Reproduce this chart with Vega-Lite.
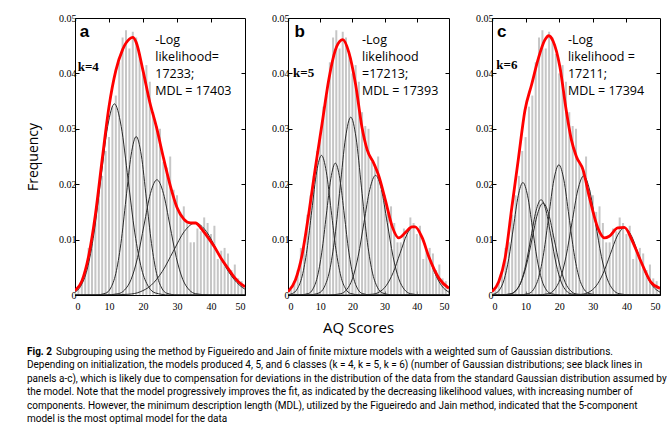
{
"$schema":"https://vega.github.io/schema/vega-lite/v6.json",
"padding":{"left":26,"top":12,"right":0,"bottom":0},
"background":"white",
"config":{"view":{"stroke":"#000","strokeWidth":1},"axis":{"labelColor":"#000","tickColor":"#000","titleColor":"#000","grid":false,"domain":false}},
"datasets":{
"hist":[{"x":0,"f":0.0008},{"x":1,"f":0.001},{"x":2,"f":0.0025},{"x":3,"f":0.0045},{"x":4,"f":0.0085},{"x":5,"f":0.0095},{"x":6,"f":0.0145},{"x":7,"f":0.018},{"x":8,"f":0.0215},{"x":9,"f":0.026},{"x":10,"f":0.0285},{"x":11,"f":0.034},{"x":12,"f":0.036},{"x":13,"f":0.042},{"x":14,"f":0.0465},{"x":15,"f":0.0478},{"x":16,"f":0.0445},{"x":17,"f":0.0475},{"x":18,"f":0.0465},{"x":19,"f":0.0435},{"x":20,"f":0.04},{"x":21,"f":0.0415},{"x":22,"f":0.0385},{"x":23,"f":0.033},{"x":24,"f":0.0305},{"x":25,"f":0.03},{"x":26,"f":0.024},{"x":27,"f":0.023},{"x":28,"f":0.025},{"x":29,"f":0.019},{"x":30,"f":0.018},{"x":31,"f":0.015},{"x":32,"f":0.016},{"x":33,"f":0.013},{"x":34,"f":0.0095},{"x":35,"f":0.0095},{"x":36,"f":0.012},{"x":37,"f":0.0115},{"x":38,"f":0.014},{"x":39,"f":0.013},{"x":40,"f":0.011},{"x":41,"f":0.0125},{"x":42,"f":0.0065},{"x":43,"f":0.008},{"x":44,"f":0.0085},{"x":45,"f":0.0075},{"x":46,"f":0.0045},{"x":47,"f":0.0055},{"x":48,"f":0.003},{"x":49,"f":0.0025},{"x":50,"f":0.001}],
"curves":[
{"p":"a","c":"1","x":0,"y":0.00051},{"p":"a","c":"1","x":1.6,"y":0.00151},{"p":"a","c":"1","x":3.6,"y":0.00467},{"p":"a","c":"1","x":5.6,"y":0.0112},{"p":"a","c":"1","x":7.6,"y":0.0209},{"p":"a","c":"1","x":9.6,"y":0.0304},{"p":"a","c":"1","x":11.6,"y":0.0345},{"p":"a","c":"1","x":13.6,"y":0.0304},{"p":"a","c":"1","x":15.6,"y":0.0209},{"p":"a","c":"1","x":17.6,"y":0.0112},{"p":"a","c":"1","x":19.6,"y":0.00467},{"p":"a","c":"1","x":21.6,"y":0.00151},{"p":"a","c":"1","x":23.6,"y":0.00038},{"p":"a","c":"1","x":27.6,"y":0.00001},{"p":"a","c":"1","x":50,"y":0},
{"p":"a","c":"2","x":0,"y":0},{"p":"a","c":"2","x":6,"y":0.00001},{"p":"a","c":"2","x":9,"y":0.00032},{"p":"a","c":"2","x":10.5,"y":0.00126},{"p":"a","c":"2","x":12,"y":0.00387},{"p":"a","c":"2","x":13.5,"y":0.00929},{"p":"a","c":"2","x":15,"y":0.01735},{"p":"a","c":"2","x":16.5,"y":0.02524},{"p":"a","c":"2","x":18,"y":0.0286},{"p":"a","c":"2","x":19.5,"y":0.02524},{"p":"a","c":"2","x":21,"y":0.01735},{"p":"a","c":"2","x":22.5,"y":0.00929},{"p":"a","c":"2","x":24,"y":0.00387},{"p":"a","c":"2","x":25.5,"y":0.00126},{"p":"a","c":"2","x":27,"y":0.00032},{"p":"a","c":"2","x":30,"y":0.00001},{"p":"a","c":"2","x":50,"y":0},
{"p":"a","c":"3","x":0,"y":0},{"p":"a","c":"3","x":8.9,"y":0.00001},{"p":"a","c":"3","x":12.7,"y":0.00023},{"p":"a","c":"3","x":14.6,"y":0.00091},{"p":"a","c":"3","x":16.5,"y":0.00281},{"p":"a","c":"3","x":18.4,"y":0.00675},{"p":"a","c":"3","x":20.3,"y":0.01262},{"p":"a","c":"3","x":22.2,"y":0.01836},{"p":"a","c":"3","x":24.1,"y":0.0208},{"p":"a","c":"3","x":26,"y":0.01836},{"p":"a","c":"3","x":27.9,"y":0.01262},{"p":"a","c":"3","x":29.8,"y":0.00675},{"p":"a","c":"3","x":31.7,"y":0.00281},{"p":"a","c":"3","x":33.6,"y":0.00091},{"p":"a","c":"3","x":35.5,"y":0.00023},{"p":"a","c":"3","x":39.3,"y":0.00001},{"p":"a","c":"3","x":50,"y":0},
{"p":"a","c":"4","x":0,"y":0},{"p":"a","c":"4","x":9.4,"y":0.00001},{"p":"a","c":"4","x":15.9,"y":0.00014},{"p":"a","c":"4","x":19.15,"y":0.00057},{"p":"a","c":"4","x":22.4,"y":0.00176},{"p":"a","c":"4","x":25.65,"y":0.00422},{"p":"a","c":"4","x":28.9,"y":0.00788},{"p":"a","c":"4","x":32.15,"y":0.01147},{"p":"a","c":"4","x":35.4,"y":0.013},{"p":"a","c":"4","x":38.65,"y":0.01147},{"p":"a","c":"4","x":41.9,"y":0.00788},{"p":"a","c":"4","x":45.15,"y":0.00422},{"p":"a","c":"4","x":48.4,"y":0.00176},{"p":"a","c":"4","x":50,"y":0.00104},
{"p":"a","c":"m","x":0,"y":0.0008},{"p":"a","c":"m","x":2,"y":0.0025},{"p":"a","c":"m","x":4,"y":0.007},{"p":"a","c":"m","x":6,"y":0.0145},{"p":"a","c":"m","x":8,"y":0.0245},{"p":"a","c":"m","x":10,"y":0.034},{"p":"a","c":"m","x":12,"y":0.0405},{"p":"a","c":"m","x":14,"y":0.0443},{"p":"a","c":"m","x":16,"y":0.0462},{"p":"a","c":"m","x":17,"y":0.0465},{"p":"a","c":"m","x":18,"y":0.0456},{"p":"a","c":"m","x":20,"y":0.0405},{"p":"a","c":"m","x":22,"y":0.0348},{"p":"a","c":"m","x":24,"y":0.0302},{"p":"a","c":"m","x":26,"y":0.0248},{"p":"a","c":"m","x":28,"y":0.0198},{"p":"a","c":"m","x":30,"y":0.0158},{"p":"a","c":"m","x":32,"y":0.0137},{"p":"a","c":"m","x":34,"y":0.013},{"p":"a","c":"m","x":35.5,"y":0.013},{"p":"a","c":"m","x":37,"y":0.0121},{"p":"a","c":"m","x":39,"y":0.0105},{"p":"a","c":"m","x":41,"y":0.0087},{"p":"a","c":"m","x":43,"y":0.0066},{"p":"a","c":"m","x":45,"y":0.0048},{"p":"a","c":"m","x":47,"y":0.0031},{"p":"a","c":"m","x":49,"y":0.0019},{"p":"a","c":"m","x":50,"y":0.0015},
{"p":"b","c":"1","x":0,"y":0.00006},{"p":"b","c":"1","x":1.4,"y":0.00028},{"p":"b","c":"1","x":2.9,"y":0.00111},{"p":"b","c":"1","x":4.4,"y":0.00341},{"p":"b","c":"1","x":5.9,"y":0.00818},{"p":"b","c":"1","x":7.4,"y":0.01528},{"p":"b","c":"1","x":8.9,"y":0.02224},{"p":"b","c":"1","x":10.4,"y":0.0252},{"p":"b","c":"1","x":11.9,"y":0.02224},{"p":"b","c":"1","x":13.4,"y":0.01528},{"p":"b","c":"1","x":14.9,"y":0.00818},{"p":"b","c":"1","x":16.4,"y":0.00341},{"p":"b","c":"1","x":17.9,"y":0.00111},{"p":"b","c":"1","x":19.4,"y":0.00028},{"p":"b","c":"1","x":22.4,"y":0.00001},{"p":"b","c":"1","x":50,"y":0},
{"p":"b","c":"2","x":0,"y":0},{"p":"b","c":"2","x":3.5,"y":0.00001},{"p":"b","c":"2","x":6.3,"y":0.00026},{"p":"b","c":"2","x":7.7,"y":0.00104},{"p":"b","c":"2","x":9.1,"y":0.00322},{"p":"b","c":"2","x":10.5,"y":0.00773},{"p":"b","c":"2","x":11.9,"y":0.01443},{"p":"b","c":"2","x":13.3,"y":0.021},{"p":"b","c":"2","x":14.7,"y":0.0238},{"p":"b","c":"2","x":16.1,"y":0.021},{"p":"b","c":"2","x":17.5,"y":0.01443},{"p":"b","c":"2","x":18.9,"y":0.00773},{"p":"b","c":"2","x":20.3,"y":0.00322},{"p":"b","c":"2","x":21.7,"y":0.00104},{"p":"b","c":"2","x":23.1,"y":0.00026},{"p":"b","c":"2","x":25.9,"y":0.00001},{"p":"b","c":"2","x":50,"y":0},
{"p":"b","c":"3","x":0,"y":0},{"p":"b","c":"3","x":6.3,"y":0.00001},{"p":"b","c":"3","x":9.6,"y":0.00036},{"p":"b","c":"3","x":11.25,"y":0.00141},{"p":"b","c":"3","x":12.9,"y":0.00434},{"p":"b","c":"3","x":14.55,"y":0.01042},{"p":"b","c":"3","x":16.2,"y":0.01947},{"p":"b","c":"3","x":17.85,"y":0.02833},{"p":"b","c":"3","x":19.5,"y":0.0321},{"p":"b","c":"3","x":21.15,"y":0.02833},{"p":"b","c":"3","x":22.8,"y":0.01947},{"p":"b","c":"3","x":24.45,"y":0.01042},{"p":"b","c":"3","x":26.1,"y":0.00434},{"p":"b","c":"3","x":27.75,"y":0.00141},{"p":"b","c":"3","x":29.4,"y":0.00036},{"p":"b","c":"3","x":32.7,"y":0.00001},{"p":"b","c":"3","x":50,"y":0},
{"p":"b","c":"4","x":0,"y":0},{"p":"b","c":"4","x":12.8,"y":0.00001},{"p":"b","c":"4","x":16.4,"y":0.00024},{"p":"b","c":"4","x":18.2,"y":0.00095},{"p":"b","c":"4","x":20,"y":0.00292},{"p":"b","c":"4","x":21.8,"y":0.00701},{"p":"b","c":"4","x":23.6,"y":0.0131},{"p":"b","c":"4","x":25.4,"y":0.01906},{"p":"b","c":"4","x":27.2,"y":0.0216},{"p":"b","c":"4","x":29,"y":0.01906},{"p":"b","c":"4","x":30.8,"y":0.0131},{"p":"b","c":"4","x":32.6,"y":0.00701},{"p":"b","c":"4","x":34.4,"y":0.00292},{"p":"b","c":"4","x":36.2,"y":0.00095},{"p":"b","c":"4","x":38,"y":0.00024},{"p":"b","c":"4","x":41.6,"y":0.00001},{"p":"b","c":"4","x":50,"y":0},
{"p":"b","c":"5","x":0,"y":0},{"p":"b","c":"5","x":21.9,"y":0.00001},{"p":"b","c":"5","x":26.2,"y":0.00014},{"p":"b","c":"5","x":28.35,"y":0.00054},{"p":"b","c":"5","x":30.5,"y":0.00168},{"p":"b","c":"5","x":32.65,"y":0.00403},{"p":"b","c":"5","x":34.8,"y":0.00752},{"p":"b","c":"5","x":36.95,"y":0.01094},{"p":"b","c":"5","x":39.1,"y":0.0124},{"p":"b","c":"5","x":41.25,"y":0.01094},{"p":"b","c":"5","x":43.4,"y":0.00752},{"p":"b","c":"5","x":45.55,"y":0.00403},{"p":"b","c":"5","x":47.7,"y":0.00168},{"p":"b","c":"5","x":50,"y":0.0005},
{"p":"b","c":"m","x":0,"y":0.0006},{"p":"b","c":"m","x":2.3,"y":0.0027},{"p":"b","c":"m","x":4.4,"y":0.0073},{"p":"b","c":"m","x":6.4,"y":0.0145},{"p":"b","c":"m","x":8.5,"y":0.023},{"p":"b","c":"m","x":10.6,"y":0.031},{"p":"b","c":"m","x":12.7,"y":0.039},{"p":"b","c":"m","x":14.7,"y":0.0442},{"p":"b","c":"m","x":16.5,"y":0.046},{"p":"b","c":"m","x":17,"y":0.0461},{"p":"b","c":"m","x":18.9,"y":0.0438},{"p":"b","c":"m","x":21,"y":0.038},{"p":"b","c":"m","x":23,"y":0.0302},{"p":"b","c":"m","x":24.6,"y":0.0262},{"p":"b","c":"m","x":26.7,"y":0.0237},{"p":"b","c":"m","x":28.2,"y":0.0215},{"p":"b","c":"m","x":30.3,"y":0.017},{"p":"b","c":"m","x":32.4,"y":0.0123},{"p":"b","c":"m","x":34.4,"y":0.0103},{"p":"b","c":"m","x":36.5,"y":0.0113},{"p":"b","c":"m","x":38.5,"y":0.0123},{"p":"b","c":"m","x":39.5,"y":0.0123},{"p":"b","c":"m","x":41.7,"y":0.0103},{"p":"b","c":"m","x":43.8,"y":0.0068},{"p":"b","c":"m","x":46.9,"y":0.003},{"p":"b","c":"m","x":50,"y":0.0012},
{"p":"c","c":"1","x":0,"y":0.00009},{"p":"c","c":"1","x":0.8,"y":0.00023},{"p":"c","c":"1","x":2.2,"y":0.00089},{"p":"c","c":"1","x":3.6,"y":0.00275},{"p":"c","c":"1","x":5,"y":0.00659},{"p":"c","c":"1","x":6.4,"y":0.01231},{"p":"c","c":"1","x":7.8,"y":0.01791},{"p":"c","c":"1","x":9.2,"y":0.0203},{"p":"c","c":"1","x":10.6,"y":0.01791},{"p":"c","c":"1","x":12,"y":0.01231},{"p":"c","c":"1","x":13.4,"y":0.00659},{"p":"c","c":"1","x":14.8,"y":0.00275},{"p":"c","c":"1","x":16.2,"y":0.00089},{"p":"c","c":"1","x":17.6,"y":0.00023},{"p":"c","c":"1","x":20.4,"y":0.00001},{"p":"c","c":"1","x":50,"y":0},
{"p":"c","c":"2","x":0,"y":0},{"p":"c","c":"2","x":2.6,"y":0.00001},{"p":"c","c":"2","x":5.6,"y":0.00019},{"p":"c","c":"2","x":7.1,"y":0.00076},{"p":"c","c":"2","x":8.6,"y":0.00233},{"p":"c","c":"2","x":10.1,"y":0.00558},{"p":"c","c":"2","x":11.6,"y":0.01043},{"p":"c","c":"2","x":13.1,"y":0.01518},{"p":"c","c":"2","x":14.6,"y":0.0172},{"p":"c","c":"2","x":16.1,"y":0.01518},{"p":"c","c":"2","x":17.6,"y":0.01043},{"p":"c","c":"2","x":19.1,"y":0.00558},{"p":"c","c":"2","x":20.6,"y":0.00233},{"p":"c","c":"2","x":22.1,"y":0.00076},{"p":"c","c":"2","x":23.6,"y":0.00019},{"p":"c","c":"2","x":26.6,"y":0.00001},{"p":"c","c":"2","x":50,"y":0},
{"p":"c","c":"3","x":0,"y":0},{"p":"c","c":"3","x":2,"y":0.00001},{"p":"c","c":"3","x":5.3,"y":0.00018},{"p":"c","c":"3","x":6.95,"y":0.00073},{"p":"c","c":"3","x":8.6,"y":0.00225},{"p":"c","c":"3","x":10.25,"y":0.00539},{"p":"c","c":"3","x":11.9,"y":0.01007},{"p":"c","c":"3","x":13.55,"y":0.01465},{"p":"c","c":"3","x":15.2,"y":0.0166},{"p":"c","c":"3","x":16.85,"y":0.01465},{"p":"c","c":"3","x":18.5,"y":0.01007},{"p":"c","c":"3","x":20.15,"y":0.00539},{"p":"c","c":"3","x":21.8,"y":0.00225},{"p":"c","c":"3","x":23.45,"y":0.00073},{"p":"c","c":"3","x":25.1,"y":0.00018},{"p":"c","c":"3","x":28.4,"y":0.00001},{"p":"c","c":"3","x":50,"y":0},
{"p":"c","c":"4","x":0,"y":0},{"p":"c","c":"4","x":7.9,"y":0.00001},{"p":"c","c":"4","x":10.9,"y":0.00026},{"p":"c","c":"4","x":12.4,"y":0.00103},{"p":"c","c":"4","x":13.9,"y":0.00318},{"p":"c","c":"4","x":15.4,"y":0.00763},{"p":"c","c":"4","x":16.9,"y":0.01425},{"p":"c","c":"4","x":18.4,"y":0.02074},{"p":"c","c":"4","x":19.9,"y":0.0235},{"p":"c","c":"4","x":21.4,"y":0.02074},{"p":"c","c":"4","x":22.9,"y":0.01425},{"p":"c","c":"4","x":24.4,"y":0.00763},{"p":"c","c":"4","x":25.9,"y":0.00318},{"p":"c","c":"4","x":27.4,"y":0.00103},{"p":"c","c":"4","x":28.9,"y":0.00026},{"p":"c","c":"4","x":31.9,"y":0.00001},{"p":"c","c":"4","x":50,"y":0},
{"p":"c","c":"5","x":0,"y":0},{"p":"c","c":"5","x":13.3,"y":0.00001},{"p":"c","c":"5","x":16.8,"y":0.00024},{"p":"c","c":"5","x":18.55,"y":0.00094},{"p":"c","c":"5","x":20.3,"y":0.00291},{"p":"c","c":"5","x":22.05,"y":0.00698},{"p":"c","c":"5","x":23.8,"y":0.01304},{"p":"c","c":"5","x":25.55,"y":0.01897},{"p":"c","c":"5","x":27.3,"y":0.0215},{"p":"c","c":"5","x":29.05,"y":0.01897},{"p":"c","c":"5","x":30.8,"y":0.01304},{"p":"c","c":"5","x":32.55,"y":0.00698},{"p":"c","c":"5","x":34.3,"y":0.00291},{"p":"c","c":"5","x":36.05,"y":0.00094},{"p":"c","c":"5","x":37.8,"y":0.00024},{"p":"c","c":"5","x":41.3,"y":0.00001},{"p":"c","c":"5","x":50,"y":0},
{"p":"c","c":"6","x":0,"y":0},{"p":"c","c":"6","x":22.6,"y":0.00001},{"p":"c","c":"6","x":26.8,"y":0.00013},{"p":"c","c":"6","x":28.9,"y":0.00053},{"p":"c","c":"6","x":31,"y":0.00164},{"p":"c","c":"6","x":33.1,"y":0.00393},{"p":"c","c":"6","x":35.2,"y":0.00734},{"p":"c","c":"6","x":37.3,"y":0.01068},{"p":"c","c":"6","x":39.4,"y":0.0121},{"p":"c","c":"6","x":41.5,"y":0.01068},{"p":"c","c":"6","x":43.6,"y":0.00734},{"p":"c","c":"6","x":45.7,"y":0.00393},{"p":"c","c":"6","x":47.8,"y":0.00164},{"p":"c","c":"6","x":50,"y":0.00051},
{"p":"c","c":"m","x":0,"y":0.0006},{"p":"c","c":"m","x":2,"y":0.0024},{"p":"c","c":"m","x":3.9,"y":0.0067},{"p":"c","c":"m","x":5.9,"y":0.0158},{"p":"c","c":"m","x":7.9,"y":0.0248},{"p":"c","c":"m","x":9.8,"y":0.0333},{"p":"c","c":"m","x":11.8,"y":0.038},{"p":"c","c":"m","x":13.8,"y":0.0427},{"p":"c","c":"m","x":15.7,"y":0.046},{"p":"c","c":"m","x":16.9,"y":0.0468},{"p":"c","c":"m","x":18.2,"y":0.0458},{"p":"c","c":"m","x":20.2,"y":0.0412},{"p":"c","c":"m","x":22.1,"y":0.0333},{"p":"c","c":"m","x":23.6,"y":0.0281},{"p":"c","c":"m","x":25.1,"y":0.025},{"p":"c","c":"m","x":27.1,"y":0.0226},{"p":"c","c":"m","x":29,"y":0.0176},{"p":"c","c":"m","x":31.5,"y":0.0121},{"p":"c","c":"m","x":33.5,"y":0.0103},{"p":"c","c":"m","x":34.9,"y":0.0106},{"p":"c","c":"m","x":37.4,"y":0.0121},{"p":"c","c":"m","x":39.4,"y":0.0122},{"p":"c","c":"m","x":41.8,"y":0.0097},{"p":"c","c":"m","x":44.3,"y":0.0061},{"p":"c","c":"m","x":47.2,"y":0.0024},{"p":"c","c":"m","x":50,"y":0.0012}
],
"notes":[
{"p":"a","k":"letter","x":1.4,"y":0.0474,"t":"a"},{"p":"a","k":"kk","x":0.8,"y":0.0411,"t":"k=4"},{"p":"a","k":"stats","x":23.6,"y":0.046,"t":"-Log\nlikelihood=\n17233;\nMDL = 17403"},
{"p":"b","k":"letter","x":2.05,"y":0.0474,"t":"b"},{"p":"b","k":"kk","x":1.55,"y":0.0401,"t":"k=5"},{"p":"b","k":"stats","x":23,"y":0.046,"t":"-Log\nlikelihood\n=17213;\nMDL = 17393"},
{"p":"c","k":"letter","x":1.5,"y":0.0474,"t":"c"},{"p":"c","k":"kk","x":1.3,"y":0.0416,"t":"k=6"},{"p":"c","k":"stats","x":22.6,"y":0.046,"t":"-Log\nlikelihood =\n17211;\nMDL = 17394"}
],
"caption":[
{"line":1,"lead":"Fig. 2","t":"Subgrouping using the method by Figueiredo and Jain of finite mixture models with a weighted sum of Gaussian distributions."},
{"line":2,"lead":"","t":"Depending on initialization, the models produced 4, 5, and 6 classes (k = 4, k = 5, k = 6) (number of Gaussian distributions; see black lines in"},
{"line":3,"lead":"","t":"panels a-c), which is likely due to compensation for deviations in the distribution of the data from the standard Gaussian distribution assumed by"},
{"line":4,"lead":"","t":"the model. Note that the model progressively improves the fit, as indicated by the decreasing likelihood values, with increasing number of"},
{"line":5,"lead":"","t":"components. However, the minimum description length (MDL), utilized by the Figueiredo and Jain method, indicated that the 5-component"},
{"line":6,"lead":"","t":"model is the most optimal model for the data"}
]
},
"vconcat":[
{"hconcat":[
{"width":170,"height":277,
"layer":[
{"data":{"name":"hist"},"mark":{"type":"bar","color":"#c6c6c6","size":2,"clip":true},
"encoding":{"x":{"field":"x","type":"quantitative","scale":{"domain":[0,50],"nice":false,"padding":0},"axis":{"orient":"bottom","values":[0,10,20,30,40,50],"tickSize":-4,"labelPadding":10,"labelFont":"Liberation Serif","labelFontSize":10,"title":null}},
"y":{"field":"f","type":"quantitative","scale":{"domain":[0,0.05],"nice":false},"axis":{"orient":"left","values":[0,0.01,0.02,0.03,0.04,0.05],"format":".2~f","tickSize":-4,"labelPadding":3,"labelFont":"Liberation Serif","labelFontSize":10,"title":"Frequency","titleFont":"Open Sans","titleFontSize":14,"titleFontWeight":"normal","titlePadding":18}}}},
{"data":{"name":"curves"},"transform":[{"filter":"datum.p=='a' && datum.c!='m'"}],"mark":{"type":"line","color":"#2b2b2b","strokeWidth":1,"interpolate":"monotone","clip":true},
"encoding":{"x":{"field":"x","type":"quantitative","axis":{"orient":"top","values":[10,20,30,40],"labels":false,"tickSize":-4,"title":null}},"y":{"field":"y","type":"quantitative","axis":{"orient":"right","values":[0.01,0.02,0.03,0.04],"labels":false,"tickSize":-4,"title":null}},"detail":{"field":"c"}}},
{"data":{"name":"curves"},"transform":[{"filter":"datum.p=='a' && datum.c=='m'"}],"mark":{"type":"line","color":"#ff0000","strokeWidth":2.8,"interpolate":"monotone","clip":true},
"encoding":{"x":{"field":"x","type":"quantitative","axis":null},"y":{"field":"y","type":"quantitative","axis":null}}},
{"data":{"name":"notes"},"transform":[{"filter":"datum.p=='a' && datum.k=='letter'"}],"mark":{"type":"text","align":"left","baseline":"middle","font":"Liberation Sans","fontSize":17,"fontWeight":"bold","color":"#000"},
"encoding":{"x":{"field":"x","type":"quantitative","axis":null},"y":{"field":"y","type":"quantitative","axis":null},"text":{"field":"t"}}},
{"data":{"name":"notes"},"transform":[{"filter":"datum.p=='a' && datum.k=='kk'"}],"mark":{"type":"text","align":"left","baseline":"middle","font":"Liberation Serif","fontSize":13,"fontWeight":"bold","color":"#000"},
"encoding":{"x":{"field":"x","type":"quantitative","axis":null},"y":{"field":"y","type":"quantitative","axis":null},"text":{"field":"t"}}},
{"data":{"name":"notes"},"transform":[{"filter":"datum.p=='a' && datum.k=='stats'"}],"mark":{"type":"text","align":"left","baseline":"middle","font":"Open Sans","fontSize":12.5,"lineHeight":17,"lineBreak":"\n","color":"#000"},
"encoding":{"x":{"field":"x","type":"quantitative","axis":null},"y":{"field":"y","type":"quantitative","axis":null},"text":{"field":"t"}}}
],
"resolve":{"axis":{"x":"independent","y":"independent"}}},
{"width":161,"height":277,
"layer":[
{"data":{"name":"hist"},"mark":{"type":"bar","color":"#c6c6c6","size":2,"clip":true},
"encoding":{"x":{"field":"x","type":"quantitative","scale":{"domain":[0,50],"nice":false,"padding":0},"axis":{"orient":"bottom","values":[0,10,20,30,40,50],"tickSize":-4,"labelPadding":10,"labelFont":"Liberation Serif","labelFontSize":10,"title":"AQ Scores","titleFont":"Open Sans","titleFontSize":15,"titleFontWeight":"normal","titlePadding":9,"titleX":70,"titleAlign":"center"}},
"y":{"field":"f","type":"quantitative","scale":{"domain":[0,0.05],"nice":false},"axis":{"orient":"left","values":[0,0.01,0.02,0.03,0.04,0.05],"format":".2~f","tickSize":-4,"labelPadding":3,"labelFont":"Liberation Serif","labelFontSize":10,"title":null}}}},
{"data":{"name":"curves"},"transform":[{"filter":"datum.p=='b' && datum.c!='m'"}],"mark":{"type":"line","color":"#2b2b2b","strokeWidth":1,"interpolate":"monotone","clip":true},
"encoding":{"x":{"field":"x","type":"quantitative","axis":{"orient":"top","values":[10,20,30,40],"labels":false,"tickSize":-4,"title":null}},"y":{"field":"y","type":"quantitative","axis":{"orient":"right","values":[0.01,0.02,0.03,0.04],"labels":false,"tickSize":-4,"title":null}},"detail":{"field":"c"}}},
{"data":{"name":"curves"},"transform":[{"filter":"datum.p=='b' && datum.c=='m'"}],"mark":{"type":"line","color":"#ff0000","strokeWidth":2.8,"interpolate":"monotone","clip":true},
"encoding":{"x":{"field":"x","type":"quantitative","axis":null},"y":{"field":"y","type":"quantitative","axis":null}}},
{"data":{"name":"notes"},"transform":[{"filter":"datum.p=='b' && datum.k=='letter'"}],"mark":{"type":"text","align":"left","baseline":"middle","font":"Liberation Sans","fontSize":17,"fontWeight":"bold","color":"#000"},
"encoding":{"x":{"field":"x","type":"quantitative","axis":null},"y":{"field":"y","type":"quantitative","axis":null},"text":{"field":"t"}}},
{"data":{"name":"notes"},"transform":[{"filter":"datum.p=='b' && datum.k=='kk'"}],"mark":{"type":"text","align":"left","baseline":"middle","font":"Liberation Serif","fontSize":13,"fontWeight":"bold","color":"#000"},
"encoding":{"x":{"field":"x","type":"quantitative","axis":null},"y":{"field":"y","type":"quantitative","axis":null},"text":{"field":"t"}}},
{"data":{"name":"notes"},"transform":[{"filter":"datum.p=='b' && datum.k=='stats'"}],"mark":{"type":"text","align":"left","baseline":"middle","font":"Open Sans","fontSize":12.5,"lineHeight":17,"lineBreak":"\n","color":"#000"},
"encoding":{"x":{"field":"x","type":"quantitative","axis":null},"y":{"field":"y","type":"quantitative","axis":null},"text":{"field":"t"}}}
],
"resolve":{"axis":{"x":"independent","y":"independent"}}},
{"width":168,"height":277,
"layer":[
{"data":{"name":"hist"},"mark":{"type":"bar","color":"#c6c6c6","size":2,"clip":true},
"encoding":{"x":{"field":"x","type":"quantitative","scale":{"domain":[0,50],"nice":false,"padding":0},"axis":{"orient":"bottom","values":[0,10,20,30,40,50],"tickSize":-4,"labelPadding":10,"labelFont":"Liberation Serif","labelFontSize":10,"title":null}},
"y":{"field":"f","type":"quantitative","scale":{"domain":[0,0.05],"nice":false},"axis":{"orient":"left","values":[0,0.01,0.02,0.03,0.04,0.05],"format":".2~f","tickSize":-4,"labelPadding":3,"labelFont":"Liberation Serif","labelFontSize":10,"title":null}}}},
{"data":{"name":"curves"},"transform":[{"filter":"datum.p=='c' && datum.c!='m'"}],"mark":{"type":"line","color":"#2b2b2b","strokeWidth":1,"interpolate":"monotone","clip":true},
"encoding":{"x":{"field":"x","type":"quantitative","axis":{"orient":"top","values":[10,20,30,40],"labels":false,"tickSize":-4,"title":null}},"y":{"field":"y","type":"quantitative","axis":{"orient":"right","values":[0.01,0.02,0.03,0.04],"labels":false,"tickSize":-4,"title":null}},"detail":{"field":"c"}}},
{"data":{"name":"curves"},"transform":[{"filter":"datum.p=='c' && datum.c=='m'"}],"mark":{"type":"line","color":"#ff0000","strokeWidth":2.8,"interpolate":"monotone","clip":true},
"encoding":{"x":{"field":"x","type":"quantitative","axis":null},"y":{"field":"y","type":"quantitative","axis":null}}},
{"data":{"name":"notes"},"transform":[{"filter":"datum.p=='c' && datum.k=='letter'"}],"mark":{"type":"text","align":"left","baseline":"middle","font":"Liberation Sans","fontSize":17,"fontWeight":"bold","color":"#000"},
"encoding":{"x":{"field":"x","type":"quantitative","axis":null},"y":{"field":"y","type":"quantitative","axis":null},"text":{"field":"t"}}},
{"data":{"name":"notes"},"transform":[{"filter":"datum.p=='c' && datum.k=='kk'"}],"mark":{"type":"text","align":"left","baseline":"middle","font":"Liberation Serif","fontSize":13,"fontWeight":"bold","color":"#000"},
"encoding":{"x":{"field":"x","type":"quantitative","axis":null},"y":{"field":"y","type":"quantitative","axis":null},"text":{"field":"t"}}},
{"data":{"name":"notes"},"transform":[{"filter":"datum.p=='c' && datum.k=='stats'"}],"mark":{"type":"text","align":"left","baseline":"middle","font":"Open Sans","fontSize":12.5,"lineHeight":17,"lineBreak":"\n","color":"#000"},
"encoding":{"x":{"field":"x","type":"quantitative","axis":null},"y":{"field":"y","type":"quantitative","axis":null},"text":{"field":"t"}}}
],
"resolve":{"axis":{"x":"independent","y":"independent"}}}
],"spacing":25},
{"width":300,"height":81,"view":{"stroke":null},"data":{"name":"caption"},
"layer":[
{"transform":[{"filter":"datum.line==1"}],"mark":{"type":"text","align":"left","baseline":"middle","font":"Roboto","fontSize":10,"fontWeight":"bold","color":"#000"},
"encoding":{"y":{"field":"line","type":"ordinal","axis":null,"scale":{"domain":[1,2,3,4,5,6],"paddingInner":0,"paddingOuter":0}},"x":{"value":-48},"text":{"field":"lead"}}},
{"transform":[{"filter":"datum.line==1"}],"mark":{"type":"text","align":"left","baseline":"middle","font":"Roboto","fontSize":10,"dx":29,"color":"#000"},
"encoding":{"y":{"field":"line","type":"ordinal","axis":null},"x":{"value":-48},"text":{"field":"t"}}},
{"transform":[{"filter":"datum.line>1"}],"mark":{"type":"text","align":"left","baseline":"middle","font":"Roboto","fontSize":10,"color":"#000"},
"encoding":{"y":{"field":"line","type":"ordinal","axis":null},"x":{"value":-48},"text":{"field":"t"}}}
]}
],
"spacing":9
}
